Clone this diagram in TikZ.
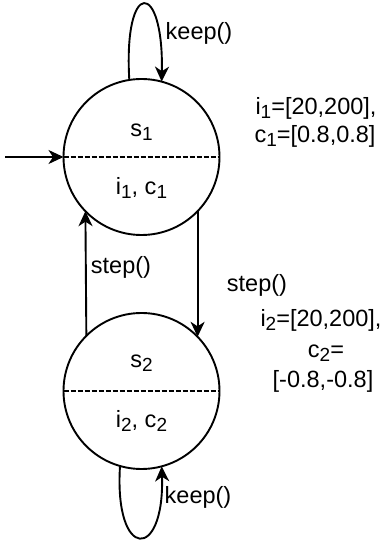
\documentclass[tikz,border=0pt]{standalone}
\usepackage{fontspec}
\setmainfont{Liberation Sans}
\usetikzlibrary{arrows.meta}

% lowered, smaller index digits
\newcommand\idx[1]{\raisebox{-3.5pt}{\fontsize{19}{19}\selectfont #1}}

\tikzset{
  state/.style={circle, draw, line width=1.9pt, minimum size=156pt, inner sep=0pt, outer sep=0pt},
  txt/.style={inner sep=0pt, outer sep=0pt, anchor=base, font=\fontsize{23.5}{28}\selectfont},
  lbl/.style={inner sep=0pt, outer sep=0pt, font=\fontsize{23.5}{28}\selectfont},
  edge/.style={line width=1.9pt, -{Stealth[length=15pt, width=14pt, inset=4.5pt]}},
  divider/.style={line width=2pt, dash pattern=on 5pt off 2pt}
}

\begin{document}
\begin{tikzpicture}[x=1pt, y=1pt]
  \useasboundingbox (0,0) rectangle (383,542);

  % the two states
  \node[state] (s1) at (141.5,385) {};
  \node[state] (s2) at (141.5,151) {};

  % dashed separators
  \draw[divider] (s1.west) -- (s1.east);
  \draw[divider] (s2.west) -- (s2.east);

  % state contents
  \node[txt] (n1) at (141.5,405) {s\idx{1}};
  \node[txt] (v1) at (141.5,347) {i\idx{1}, c\idx{1}};
  \node[txt] (n2) at (141.5,174) {s\idx{2}};
  \node[txt] (v2) at (141.5,114) {i\idx{2}, c\idx{2}};

  % initial arrow
  \coordinate (init) at (5,385);
  \draw[edge] (init) -- (s1.west);

  % self loops
  \draw[edge] (s1.99) .. controls +(-6,102) and +(2,102) .. (s1.75.4);
  \node[lbl] (k1) at (199,509) {keep()};
  \draw[edge] (s2.254.7) .. controls +(-6,-95) and +(3,-95) .. (s2.285);
  \node[lbl] (k2) at (198,45) {keep()};

  % transitions between the states
  \draw[edge] (s2.135.2) -- (s1.224.8);
  \node[lbl] (t1) at (121,275) {step()};
  \draw[edge] (s1.-44.0) -- (s2.44.0);
  \node[lbl] (t2) at (257,257) {step()};

  % parameter annotations
  \node[txt] (a1) at (316,427) {i\idx{1}=[20,200],};
  \node[txt] (a2) at (315,399) {c\idx{1}=[0.8,0.8]};
  \node[txt] (b1) at (321,215) {i\idx{2}=[20,200],};
  \node[txt] (b2) at (326,184) {c\idx{2}=};
  \node[txt] (b3) at (323,154) {[-0.8,-0.8]};
\end{tikzpicture}
\end{document}
